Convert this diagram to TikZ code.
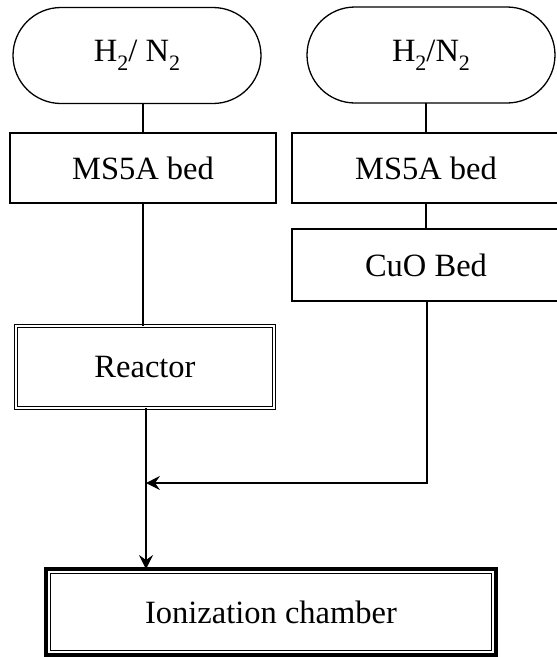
\documentclass[tikz,border=0pt]{standalone}
\usepackage{fontspec}
\setmainfont{Liberation Serif}
\usetikzlibrary{arrows.meta}
\newcommand{\sbt}[1]{\raisebox{-0.28em}{\fontsize{22}{22}\selectfont #1}}
\begin{document}
\begin{tikzpicture}[x=1pt,y=1pt,
  every node/.style={inner sep=0pt,outer sep=0pt,font=\fontsize{32.5}{38}\selectfont},
  pill/.style={draw,line width=1.3pt,rounded corners=48pt,minimum width=248pt,minimum height=96pt},
  bedbox/.style={draw,line width=1.2pt,minimum height=70pt},
  dblbox/.style={draw,line width=1pt,double,double distance=2pt,minimum width=258pt,minimum height=82pt},
  flow/.style={line width=1.2pt},
  tip/.style={-{Stealth[length=14pt,width=14pt,inset=5pt]}}]
\useasboundingbox (0,0) rectangle (557,-657);
\clip (0,0) rectangle (557,-657);
% sources
\node[pill] (lp) at (137,-55.5) {H\sbt{2}/ N\sbt{2}};
\node[pill] (rp) at (431,-55) {H\sbt{2}/N\sbt{2}};
% beds
\node[bedbox,minimum width=266pt] (lms) at (143,-168) {MS5A bed};
\node[bedbox,minimum width=268pt] (rms) at (426,-168) {MS5A bed};
\node[bedbox,minimum width=268pt,minimum height=72pt] (cuo) at (426,-265) {CuO Bed};
% reactor
\node[dblbox] (re) at (145,-367) {Reactor};
% ionization chamber
\node[draw,line width=4pt,minimum width=450pt,minimum height=86pt] (ion) at (271,-612) {Ionization chamber};
\draw[line width=1.2pt] ([shift={(4.5pt,-4.3pt)}]ion.north west) rectangle ([shift={(-4.5pt,4.3pt)}]ion.south east);
% connectors
\coordinate (j) at (146,-483);
\coordinate (jr) at (427,-483);
\draw[flow] (lms.north) -- (lms.north |- lp.south);
\draw[flow] (rms.north) -- (rms.north |- rp.south);
\draw[flow] (rms.south) -- (cuo.north);
\draw[flow] (lms.south) -- (lms.south |- re.north);
\draw[flow,tip] (re.south -| j) -- (j |- ion.north);
\draw[flow,tip] (cuo.south -| jr) -- (jr) -- (j);
\end{tikzpicture}
\end{document}
